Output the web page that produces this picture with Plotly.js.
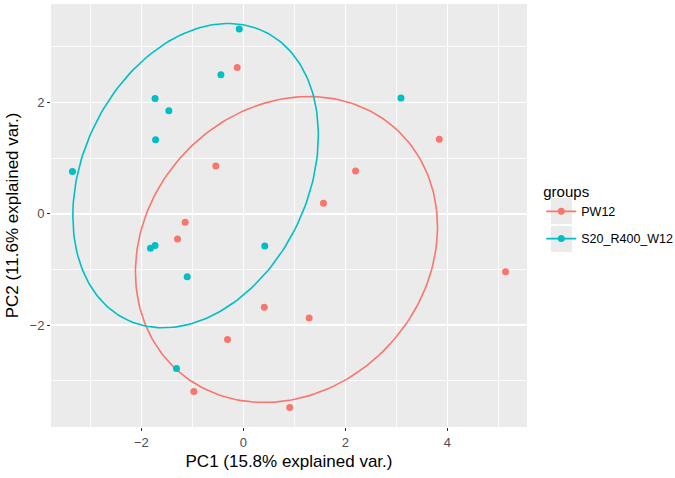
<!DOCTYPE html>
<html>
<head>
<meta charset="utf-8">
<script src="https://cdn.plot.ly/plotly-3.0.1.min.js"></script>
<style>html,body{margin:0;padding:0;background:#fff;}#chart{width:675px;height:478px;}</style>
</head>
<body>
<div id="chart"></div>
<script>
// Data
const groupNames = ["PW12", "S20_R400_W12"];
const groupColors = ["#F8766D", "#00BFC4"];

const pw12_PC1 = [-0.12, -0.54, 1.57, -1.14, -1.29, 0.41, 1.29, -0.31, -0.97, 0.91, 3.84, 2.20, 5.14];
const pw12_PC2 = [2.63, 0.86, 0.19, -0.15, -0.45, -1.68, -1.87, -2.26, -3.19, -3.48, 1.34, 0.77, -1.04];

const s20_PC1 = [-0.08, -0.44, -1.73, -1.46, -1.72, -3.35, -1.82, -1.73, -1.10, 0.42, -1.31, 3.09];
const s20_PC2 = [3.32, 2.50, 2.07, 1.85, 1.33, 0.76, -0.62, -0.57, -1.13, -0.58, -2.78, 2.08];

const xTickVals = [-2, 0, 2, 4];
const yTickVals = [-2, 0, 2];
const xTitle = "PC1 (15.8% explained var.)";
const yTitle = "PC2 (11.6% explained var.)";
const legendTitle = "groups";
const ellipseProb = 0.68;

// Normal-data ellipse as in ggbiplot (chol of covariance, chi-square radius)
function ellipse(xs, ys, prob) {
  const n = xs.length;
  const mx = xs.reduce((a, b) => a + b, 0) / n;
  const my = ys.reduce((a, b) => a + b, 0) / n;
  let sxx = 0, syy = 0, sxy = 0;
  for (let i = 0; i < n; i++) {
    sxx += (xs[i] - mx) ** 2;
    syy += (ys[i] - my) ** 2;
    sxy += (xs[i] - mx) * (ys[i] - my);
  }
  sxx /= (n - 1); syy /= (n - 1); sxy /= (n - 1);
  const r11 = Math.sqrt(sxx), r12 = sxy / r11, r22 = Math.sqrt(syy - r12 * r12);
  const ed = Math.sqrt(-2 * Math.log(1 - prob));
  const ex = [], ey = [];
  for (let k = 0; k <= 200; k++) {
    const t = -Math.PI + 2 * Math.PI * k / 200;
    const c = Math.cos(t), s = Math.sin(t);
    ex.push(mx + ed * c * r11);
    ey.push(my + ed * (c * r12 + s * r22));
  }
  return {x: ex, y: ey};
}

const groupsX = [pw12_PC1, s20_PC1];
const groupsY = [pw12_PC2, s20_PC2];
const traces = [];
for (let g = 0; g < 2; g++) {
  const e = ellipse(groupsX[g], groupsY[g], ellipseProb);
  traces.push({x: e.x, y: e.y, mode: "lines", type: "scatter",
    line: {color: groupColors[g], width: 1.6}, showlegend: false, hoverinfo: "skip"});
}
for (let g = 0; g < 2; g++) {
  traces.push({x: groupsX[g], y: groupsY[g], mode: "markers", type: "scatter",
    marker: {color: groupColors[g], size: 7}, showlegend: false, name: groupNames[g]});
}
for (let g = 0; g < 2; g++) {
  traces.push({x: [null], y: [null], mode: "lines+markers", type: "scatter",
    name: groupNames[g], legendgroup: "g" + g, line: {color: groupColors[g], width: 1.6},
    marker: {color: groupColors[g], size: 7}, showlegend: true});
}

const font = "Liberation Sans, Arial, sans-serif";
const axisCommon = {
  showline: false, zeroline: false,
  gridcolor: "#ffffff", gridwidth: 1.6,
  ticks: "outside", ticklen: 3, tickwidth: 1, tickcolor: "#333333",
  tickfont: {family: font, size: 13, color: "#4d4d4d"},
  tickmode: "array",
  minor: {dtick: 1, showgrid: true, gridcolor: "#ffffff", gridwidth: 0.8, ticks: ""}
};

const layout = {
  width: 675, height: 478,
  margin: {l: 51, r: 148, t: 4, b: 51, autoexpand: false},
  paper_bgcolor: "#ffffff", plot_bgcolor: "#EBEBEB",
  font: {family: font, color: "#000000"},
  xaxis: Object.assign({}, axisCommon, {
    range: [-3.77, 5.56], tickvals: xTickVals,
    ticktext: xTickVals.map(v => (v < 0 ? "\u2212" + Math.abs(v) : String(v))),
    title: {text: xTitle, font: {family: font, size: 17, color: "#000000"}, standoff: 6}
  }),
  yaxis: Object.assign({}, axisCommon, {
    range: [-3.83, 3.77], tickvals: yTickVals,
    ticktext: yTickVals.map(v => (v < 0 ? "\u2212" + Math.abs(v) : String(v))),
    title: {text: yTitle, font: {family: font, size: 17, color: "#000000"}, standoff: 6}
  }),
  showlegend: true,
  legend: {
    x: 1.03, xanchor: "left", y: 0.5905, yanchor: "top",
    bgcolor: "rgba(0,0,0,0)",
    traceorder: "grouped", tracegroupgap: 8,
    title: {text: legendTitle, font: {family: font, size: 15, color: "#000000"}},
    font: {family: font, size: 12.5, color: "#000000"}
  },
  shapes: [
    {type: "rect", xref: "paper", yref: "paper", x0: 1.0504, x1: 1.0945,
     y0: (427 - 224) / 423, y1: (427 - 198) / 423, fillcolor: "#EBEBEB", line: {width: 0}, layer: "below"},
    {type: "rect", xref: "paper", yref: "paper", x0: 1.0504, x1: 1.0945,
     y0: (427 - 252) / 423, y1: (427 - 226) / 423, fillcolor: "#EBEBEB", line: {width: 0}, layer: "below"}
  ]
};

Plotly.newPlot("chart", traces, layout, {displayModeBar: false, staticPlot: true});
</script>
</body>
</html>
